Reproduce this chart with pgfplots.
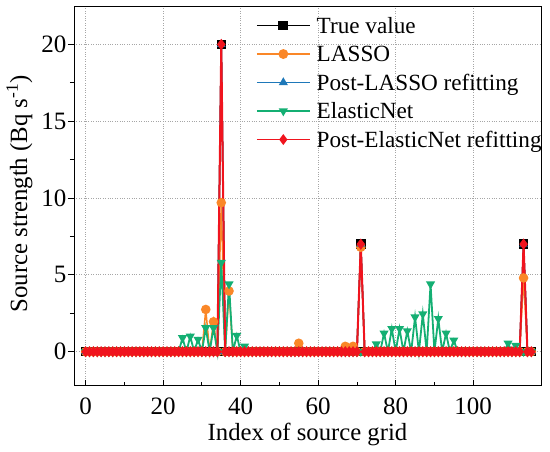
\documentclass[border=0pt]{standalone}
\usepackage{pgfplots}
\pgfplotsset{compat=1.18}
\usepackage{pgfplotstable}
\usepackage{fontspec}
\setmainfont{Liberation Serif}
\definecolor{cOrange}{RGB}{250,135,40}
\definecolor{cBlue}{RGB}{30,120,185}
\definecolor{cGreen}{RGB}{20,175,115}
\definecolor{cRed}{RGB}{240,20,30}
\newcommand{\ls}{\rule[-6pt]{0pt}{23pt}\hspace*{3pt}}
\pgfplotstableread{
x tv la pl en pe
0 0 0 0 0 0
1 0 0 0 0 0
2 0 0 0 0 0
3 0 0 0 0 0
4 0 0 0 0 0
5 0 0 0 0 0
6 0 0 0 0 0
7 0 0 0 0 0
8 0 0 0 0 0
9 0 0 0 0 0
10 0 0 0 0 0
11 0 0 0 0 0
12 0 0 0 0 0
13 0 0 0 0 0
14 0 0 0 0 0
15 0 0 0 0 0
16 0 0 0 0 0
17 0 0 0 0 0
18 0 0 0 0 0
19 0 0 0 0 0
20 0 0 0 0 0
21 0 0 0 0 0
22 0 0 0 0 0
23 0 0 0 0 0
24 0 0 0 0 0
25 0 0 0 0.9 0
26 0 0 0 0 0
27 0 0 0 1.0 0
28 0 0 0 0 0
29 0 0 0 0.8 0
30 0 0 0 0 0
31 0 2.75 0 1.55 0
32 0 0 0 0 0
33 0 1.95 0 1.55 0
34 0 0 0 0 0
35 20 9.7 20 5.8 20
36 0 0 0 0 0
37 0 3.95 0 4.4 0
38 0 0 0 0 0
39 0 0 0 1.05 0
40 0 0 0 0 0
41 0 0 0 0.35 0
42 0 0 0 0 0
43 0 0 0 0 0
44 0 0 0 0 0
45 0 0 0 0 0
46 0 0 0 0 0
47 0 0 0 0 0
48 0 0 0 0 0
49 0 0 0 0 0
50 0 0 0 0 0
51 0 0 0 0 0
52 0 0 0 0 0
53 0 0 0 0 0
54 0 0 0 0 0
55 0 0.55 0 0 0
56 0 0 0 0 0
57 0 0 0 0 0
58 0 0 0 0 0
59 0 0 0 0 0
60 0 0 0 0 0
61 0 0 0 0 0
62 0 0 0 0 0
63 0 0 0 0 0
64 0 0 0 0 0
65 0 0 0 0 0
66 0 0 0 0 0
67 0 0.35 0 0 0
68 0 0 0 0 0
69 0 0.35 0 0 0
70 0 0 0 0 0
71 7 6.8 7 0 7
72 0 0 0 0 0
73 0 0 0 0 0
74 0 0 0 0 0
75 0 0 0 0.5 0
76 0 0 0 0 0
77 0 0 0 1.2 0
78 0 0 0 0 0
79 0 0 0 1.5 0
80 0 0 0 0 0
81 0 0 0 1.5 0
82 0 0 0 0 0
83 0 0 0 1.35 0
84 0 0 0 0 0
85 0 0 0 2.25 0
86 0 0 0 0 0
87 0 0 0 2.45 0
88 0 0 0 0 0
89 0 0 0 4.4 0
90 0 0 0 0 0
91 0 0 0 2.15 0
92 0 0 0 0 0
93 0 0 0 1.2 0
94 0 0 0 0 0
95 0 0 0 0.75 0
96 0 0 0 0 0
97 0 0 0 0 0
98 0 0 0 0 0
99 0 0 0 0 0
100 0 0 0 0 0
101 0 0 0 0 0
102 0 0 0 0 0
103 0 0 0 0 0
104 0 0 0 0 0
105 0 0 0 0 0
106 0 0 0 0 0
107 0 0 0 0 0
108 0 0 0 0 0
109 0 0 0 0.55 0
110 0 0 0 0 0
111 0 0 0 0.4 0
112 0 0 0 0 0
113 7 4.8 7 0 7
114 0 0 0 0 0
115 0 0 0 0 0
}\datatab
\begin{document}
\begin{tikzpicture}
\begin{axis}[
  scale only axis,
  width=467pt, height=379.5pt,
  xmin=-3, xmax=117.5, ymin=-2.2, ymax=22.5,
  xtick={0,20,40,60,80,100},
  ytick={0,5,10,15,20},
  minor x tick num=1, minor y tick num=1,
  x tick style={black, line width=0.8pt},
  y tick style={black, line width=0.8pt},
  xtick align=inside,
  ytick align=outside,
  tick pos=left,
  major tick length=6pt, minor tick length=4pt,
  axis line style={black, line width=1pt},
  grid=major,
  major grid style={gray!70, dotted, line width=0.8pt},
  tick label style={font=\fontsize{25}{29}\selectfont},
  /pgf/number format/assume math mode=true,
  xticklabel style={anchor=base, yshift=-28.5pt},
  yticklabel style={anchor=east, xshift=2pt},
  xlabel={Index of source grid},
  ylabel={Source strength (Bq s\textsuperscript{-1})},
  xlabel style={font=\fontsize{24.7}{29}\selectfont, at={(axis description cs:0.5,0)}, anchor=base, yshift=-54.5pt},
  ylabel style={font=\fontsize{24.8}{29}\selectfont, at={(axis description cs:-0.1006,0.505)}, anchor=base},
  legend style={at={(0.387,0.984)}, anchor=north west, draw=none, fill=none,
    font=\fontsize{23.2}{27}\selectfont, row sep=4pt, inner sep=1pt,
    nodes={inner sep=3pt}},
  legend cell align=left,
  legend image code/.code={\draw[line width=1.8pt, mark repeat=2,mark phase=2] plot coordinates {(0pt,0pt)(26.5pt,0pt)(53pt,0pt)};},
]
\addplot[black, line width=1.5pt, mark=square*, mark size=4pt, mark options={solid, fill=black}] table[x=x,y=tv] {\datatab};
\addlegendentry{\ls True value}
\addplot[cOrange, line width=1.5pt, mark=*, mark size=4pt, mark options={solid, fill=cOrange}] table[x=x,y=la] {\datatab};
\addlegendentry{\ls LASSO}
\addplot[cBlue, line width=1.5pt, mark=triangle*, mark size=3.5pt, mark options={solid, fill=cBlue}] table[x=x,y=pl] {\datatab};
\addlegendentry{\ls Post-LASSO refitting}
\addplot[cGreen, line width=1.8pt, mark=triangle*, mark size=3.5pt, mark options={solid, fill=cGreen, rotate=180}] table[x=x,y=en] {\datatab};
\addlegendentry{\ls ElasticNet}
\addplot[cRed, line width=2pt, mark=diamond*, mark size=4pt, mark options={solid, fill=cRed}] table[x=x,y=pe] {\datatab};
\addlegendentry{\ls Post-ElasticNet refitting}
\end{axis}
\path[use as bounding box] ([shift={(-74pt,-65.5pt)}]current axis.south west) rectangle ([shift={(9pt,6pt)}]current axis.north east);
\end{tikzpicture}
\end{document}
